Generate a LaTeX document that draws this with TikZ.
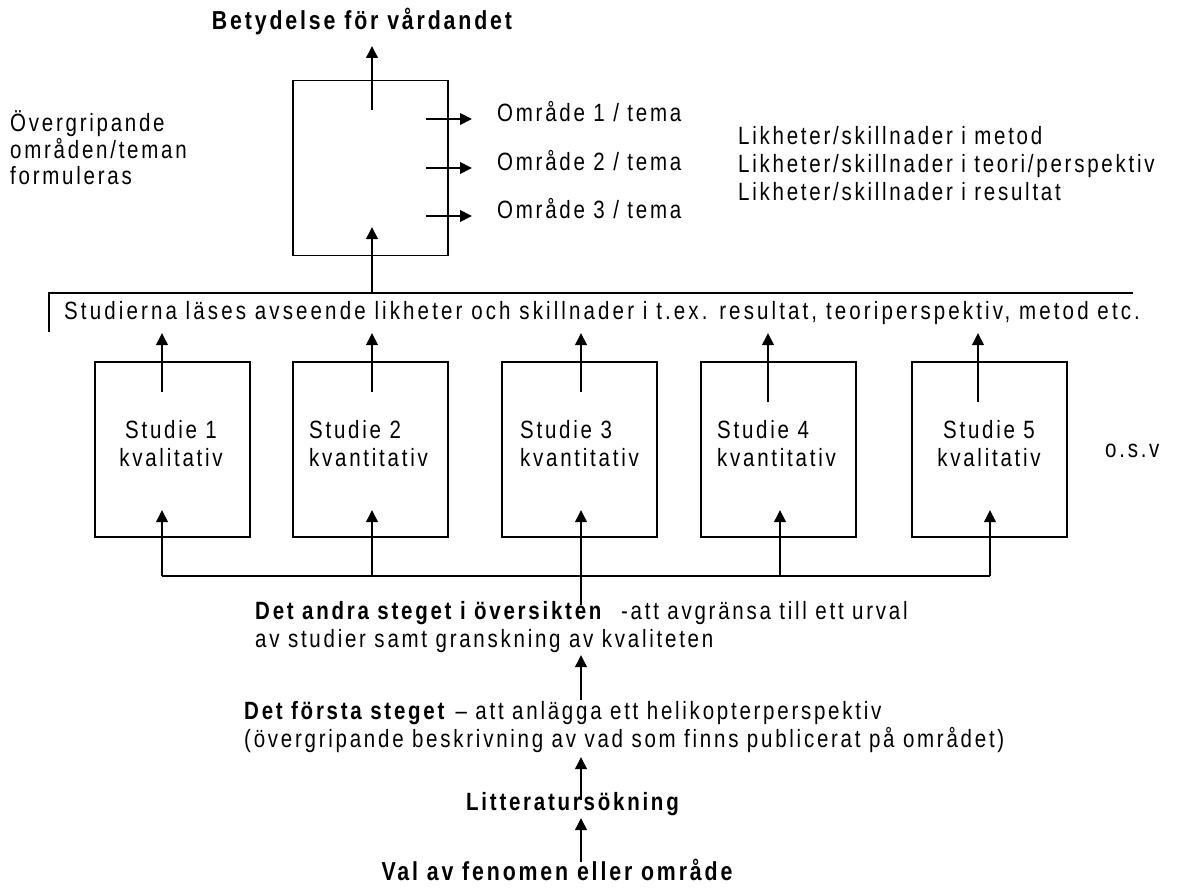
\documentclass[tikz,border=0pt]{standalone}
\usepackage{fontspec}
\setmainfont[FakeStretch=0.82,LetterSpace=11]{Liberation Sans}
\usetikzlibrary{arrows.meta,calc}
\begin{document}
\begin{tikzpicture}[x=1pt,y=-1pt,
  box/.style={draw,line width=1.6pt,minimum width=155pt,minimum height=175pt,inner sep=0pt},
  arr/.style={line width=2pt,-{Triangle[length=12pt,width=11.5pt]}},
  ln/.style={line width=2pt},
  txt/.style={font=\fontsize{25}{29}\selectfont,inner sep=0pt,anchor=mid west},
  ctxt/.style={txt,anchor=mid},
  btxt/.style={font=\fontsize{26}{30}\selectfont\bfseries,inner sep=0pt,anchor=mid}]
\useasboundingbox (0,0) rectangle (1186,888);

% top box
\node[box] (top) at (370.5,168) {};
\node[btxt] (title) at (362,27) {Betydelse för vårdandet};
\coordinate (topout) at (372,110);
\coordinate (topouttip) at (372,46);
\draw[arr] (topout) -- (topouttip);

\foreach \i/\y in {1/119,2/168,3/216} {
  \node[txt] (om\i) at (497,\y) {Område \i{} / tema};
  \coordinate (os\i) at (426,\y);
  \coordinate (oe\i) at (472,\y);
  \draw[arr] (os\i) -- (oe\i);
}

\node[txt] (ov1) at (10,129) {Övergripande};
\node[txt] (ov2) at (10,156) {områden/teman};
\node[txt] (ov3) at (10,182) {formuleras};

\node[txt] (lk1) at (738,142) {Likheter/skillnader i metod};
\node[txt] (lk2) at (738,170) {Likheter/skillnader i teori/perspektiv};
\node[txt] (lk3) at (738,198) {Likheter/skillnader i resultat};

% bracket line
\coordinate (brL) at (49,332);
\coordinate (brT) at (49,293);
\coordinate (brR) at (1133,293);
\draw[ln] (brL) -- (brT) -- (brR);
\node[txt,font=\fontsize{25}{29}\selectfont\addfontfeature{LetterSpace=12.5}] (stud) at (64,317) {Studierna läses avseende likheter och skillnader i t.ex. resultat, teoriperspektiv, metod etc.};
\coordinate (topin) at (372,227);
\draw[arr] (brT -| topin) -- (topin);

% study boxes
\foreach \n/\cx in {1/172.5,2/370.5,3/579.5,4/778.5,5/989.5}
  \node[box] (s\n) at (\cx,449.5) {};

\node[ctxt] (l1a) at (171,436) {Studie 1};
\node[ctxt] (l1b) at (171,464) {kvalitativ};
\node[txt] (l2a) at (309,436) {Studie 2};
\node[txt] (l2b) at (309,464) {kvantitativ};
\node[txt] (l3a) at (520,436) {Studie 3};
\node[txt] (l3b) at (520,464) {kvantitativ};
\node[txt] (l4a) at (717,436) {Studie 4};
\node[txt] (l4b) at (717,464) {kvantitativ};
\node[ctxt] (l5a) at (989,436) {Studie 5};
\node[ctxt] (l5b) at (989,464) {kvalitativ};
\node[txt] (osv) at (1105,455) {o.s.v};

% arrows from boxes up to the reading line
\foreach \n/\ax/\ay in {1/162/392,2/372/392,3/581/392,4/768/402,5/978/402} {
  \coordinate (u\n) at (\ax,\ay);
  \coordinate (ut\n) at (\ax,333);
  \draw[arr] (u\n) -- (ut\n);
}
% arrows into boxes from the selection line
\foreach \n/\ax in {1/162,2/372,3/581,4/780,5/990} {
  \coordinate (d\n) at (\ax,576);
  \coordinate (dt\n) at (\ax,510);
}
\draw[ln] (d1) -- (d5);
\foreach \n in {1,2,4,5} \draw[arr] (d\n) -- (dt\n);
\coordinate (d3low) at (581,605);
\draw[arr] (d3low) -- (dt3);

% bottom texts
\node[txt] (an1) at (255,617) {\textbf{Det andra steget i översikten}\ \ -att avgränsa till ett urval};
\node[txt] (an2) at (255,645) {av studier samt granskning av kvaliteten};
\coordinate (a1) at (581,700);
\coordinate (a1t) at (581,655);
\draw[arr] (a1) -- (a1t);
\node[txt] (fo1) at (244,717) {\textbf{Det första steget} – att anlägga ett helikopterperspektiv};
\node[txt] (fo2) at (244,745) {(övergripande beskrivning av vad som finns publicerat på området)};
\coordinate (a2) at (581,800);
\coordinate (a2t) at (581,757);
\draw[arr] (a2) -- (a2t);
\node[btxt,font=\fontsize{25}{29}\selectfont\bfseries] (lit) at (572.5,808) {Litteratursökning};
\coordinate (a3) at (581,862);
\coordinate (a3t) at (581,818);
\draw[arr] (a3) -- (a3t);
\node[btxt] (val) at (557,878) {Val av fenomen eller område};
\end{tikzpicture}
\end{document}
